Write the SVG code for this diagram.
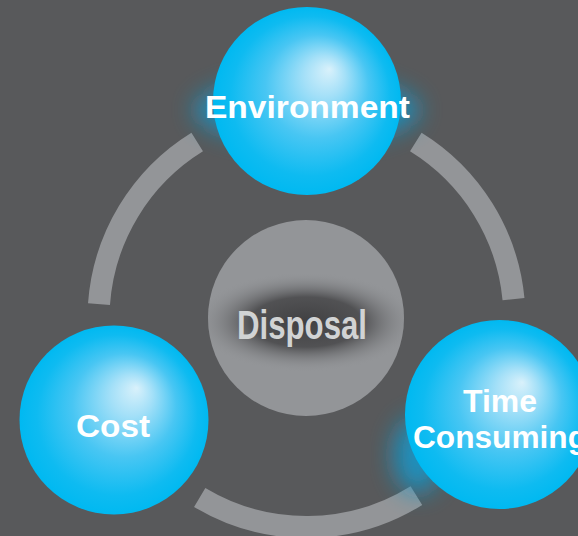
<svg xmlns="http://www.w3.org/2000/svg" width="578" height="536" viewBox="0 0 578 536">
  <style>
    .ring { fill: none; stroke: #939598; stroke-width: 22; }
    .ball { fill: url(#ballGrad); }
    .lbl { font-family: "Liberation Sans", Arial, sans-serif; font-weight: bold; fill: #ffffff; font-size: 31px; text-anchor: middle; }
    .core { font-family: "Liberation Sans", Arial, sans-serif; font-weight: bold; fill: #d1d3d4; font-size: 41px; text-anchor: middle; }
  </style>
  <defs>
    <radialGradient id="ballGrad" cx="0.5" cy="0.5" r="0.5" fx="0.62" fy="0.33">
      <stop offset="0" stop-color="#d9f1fb"/>
      <stop offset="0.22" stop-color="#a4e0f8"/>
      <stop offset="0.55" stop-color="#48c6f3"/>
      <stop offset="0.85" stop-color="#0ebbf1"/>
      <stop offset="1" stop-color="#00b9f1"/>
    </radialGradient>
    <radialGradient id="shadowGrad" cx="0.5" cy="0.5" r="0.5">
      <stop offset="0" stop-color="#404042" stop-opacity="1"/>
      <stop offset="0.5" stop-color="#4a4a4c" stop-opacity="0.9"/>
      <stop offset="1" stop-color="#939598" stop-opacity="0"/>
    </radialGradient>
    <filter id="glow" x="-50%" y="-50%" width="200%" height="200%">
      <feGaussianBlur stdDeviation="12"/>
    </filter>
    <clipPath id="coreClip">
      <circle cx="306" cy="318" r="98"/>
    </clipPath>
  </defs>
  <rect width="578" height="536" fill="#58595b"/>

  <g id="connectors">
    <path class="ring" d="M 99,304.1 A 208 208 0 0 1 197.2,142"/>
    <path class="ring" d="M 415.8,142 A 208 208 0 0 1 513.5,299.1"/>
    <path class="ring" d="M 416.4,495.6 A 208 208 0 0 1 199.7,497.5"/>
  </g>

  <g id="disposal">
    <circle cx="306" cy="318" r="98" fill="#939598"/>
    <ellipse cx="306" cy="322" rx="112" ry="50" fill="url(#shadowGrad)" clip-path="url(#coreClip)"/>
    <text class="core" x="302" y="339" textLength="130" lengthAdjust="spacingAndGlyphs">Disposal</text>
  </g>

  <g id="environment">
    <ellipse cx="307" cy="110" rx="112" ry="32" fill="#1897c9" opacity="0.9" filter="url(#glow)"/>
    <circle class="ball" cx="307" cy="101" r="94"/>
    <text class="lbl" x="307.5" y="118" textLength="205" lengthAdjust="spacingAndGlyphs">Environment</text>
  </g>

  <g id="cost">
    <circle class="ball" cx="114" cy="420" r="94.5"/>
    <text class="lbl" x="113" y="437" textLength="74" lengthAdjust="spacingAndGlyphs">Cost</text>
  </g>

  <g id="time-consuming">
    <ellipse cx="418" cy="455" rx="24" ry="38" fill="#1897c9" opacity="0.9" filter="url(#glow)"/>
    <circle class="ball" cx="499.5" cy="414.5" r="94.5"/>
    <text class="lbl" x="500" y="412" textLength="74" lengthAdjust="spacingAndGlyphs">Time</text>
    <text class="lbl" x="500" y="448" textLength="174" lengthAdjust="spacingAndGlyphs">Consuming</text>
  </g>
</svg>
